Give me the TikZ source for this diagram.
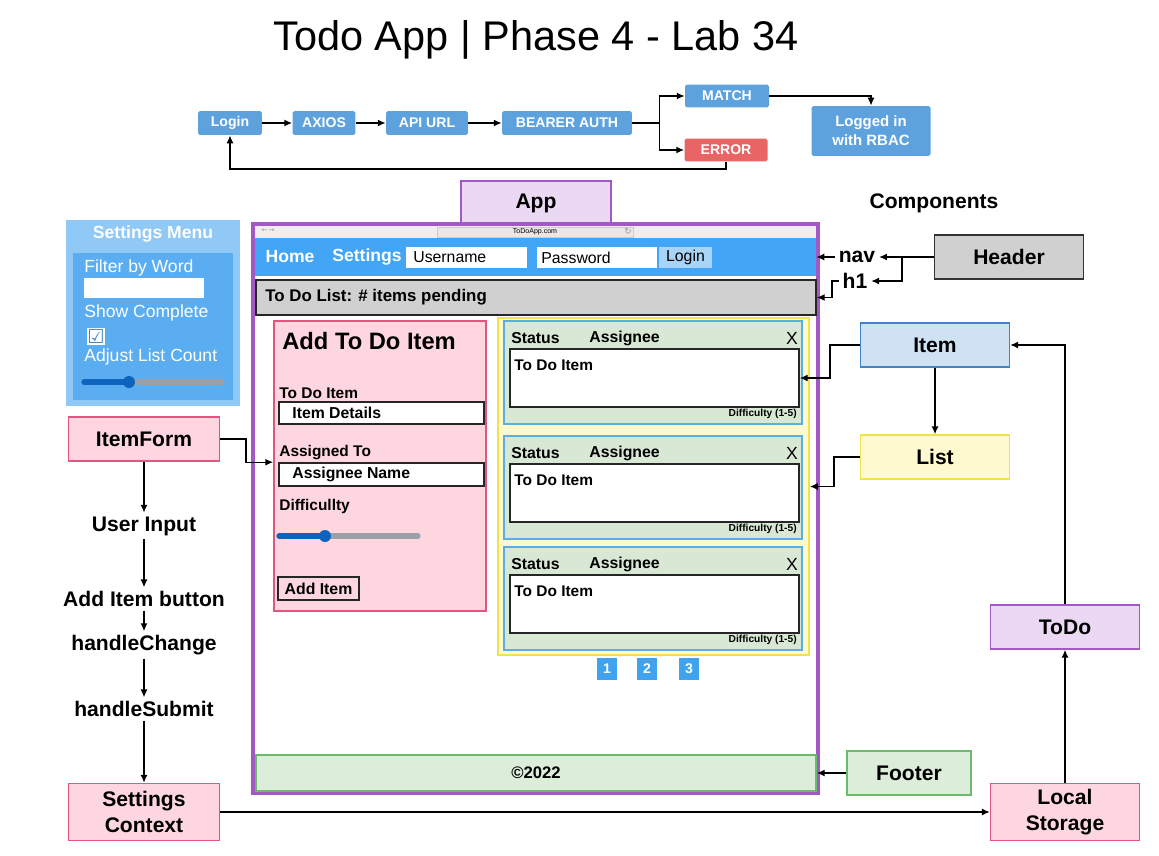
\documentclass[tikz,border=0pt]{standalone}
\usepackage{fontspec}
\setmainfont{Liberation Sans}
\newfontfamily\symfont{DejaVu Sans}
\usetikzlibrary{arrows.meta,fit,positioning}

\definecolor{flowblue}{HTML}{5DA2DC}
\definecolor{errred}{HTML}{E96565}
\definecolor{appfill}{HTML}{EBD9F3}
\definecolor{appline}{HTML}{A259C6}
\definecolor{navblue}{HTML}{42A5F5}
\definecolor{btnblue}{HTML}{A8D4F8}
\definecolor{hgray}{HTML}{D0D0D0}
\definecolor{formfill}{HTML}{FDD6DF}
\definecolor{formline}{HTML}{E2557D}
\definecolor{listfill}{HTML}{FEF9CF}
\definecolor{listline}{HTML}{F1E24A}
\definecolor{cardfill}{HTML}{D9E8D5}
\definecolor{cardline}{HTML}{5AAEE2}
\definecolor{footfill}{HTML}{DCEEDA}
\definecolor{footline}{HTML}{69BC69}
\definecolor{itemfill}{HTML}{CFE2F3}
\definecolor{itemline}{HTML}{3D85C6}
\definecolor{menuout}{HTML}{90C8F6}
\definecolor{menuin}{HTML}{5AADF0}
\definecolor{slideblue}{HTML}{0E63BC}
\definecolor{slidegray}{HTML}{9AA0A8}
\definecolor{pageblue}{HTML}{3FA3F0}
\definecolor{chrome}{HTML}{EEEEF0}

\tikzset{
  flowbox/.style={fill=flowblue, text=white, inner sep=0pt, rounded corners=1pt,
    minimum height=0.48cm, font=\bfseries\fontsize{8}{9}\selectfont},
  comp/.style={draw, line width=0.8pt, inner sep=0pt, minimum width=2.98cm,
    minimum height=0.88cm, align=center, font=\bfseries\fontsize{12}{14}\selectfont},
  flowtxt/.style={inner sep=2pt, font=\bfseries\fontsize{12}{14}\selectfont},
  link/.style={line width=0.8pt, -{Latex[length=4.5pt,width=4pt]}},
  area/.style={inner sep=0pt},
  wlab/.style={anchor=west, inner sep=0pt, font=\bfseries\fontsize{8.8}{10}\selectfont},
  plain/.style={anchor=west, inner sep=0pt, font=\fontsize{9}{10}\selectfont},
  navtxt/.style={inner sep=0pt, text=white, font=\bfseries\fontsize{10}{12}\selectfont},
  menutxt/.style={anchor=west, inner sep=0pt, text=white, font=\fontsize{10}{12}\selectfont},
  field/.style={area, fill=white, draw=black!85, line width=0.9pt},
}

\begin{document}
\begin{tikzpicture}[x=0.02cm,y=-0.02cm]
\useasboundingbox (0,0) rectangle (1159,855);

\node[font=\fontsize{23.6}{27}\selectfont] (title) at (536,40) {Todo App | Phase 4 - Lab 34};

% login flow
\node[flowbox, minimum width=1.28cm] (login) at (230,123) {Login};
\node[flowbox, minimum width=1.26cm] (axios) at (324,123) {AXIOS};
\node[flowbox, minimum width=1.64cm] (apiurl) at (427,123) {API URL};
\node[flowbox, minimum width=2.6cm] (bearer) at (567,123) {BEARER AUTH};
\node[flowbox, minimum width=1.68cm, minimum height=0.46cm] (match) at (727,96) {MATCH};
\node[flowbox, fill=errred, minimum width=1.66cm, minimum height=0.46cm] (error) at (726,150) {ERROR};
\node[flowbox, minimum width=2.38cm, minimum height=1cm, align=center,
  font=\bfseries\fontsize{8.5}{10.8}\selectfont] (rbac) at (871,131) {Logged in\\with RBAC};
\draw[link] (login) -- (axios);
\draw[link] (axios) -- (apiurl);
\draw[link] (apiurl) -- (bearer);
\draw[link] (bearer.east) -- ++(27,0) |- (match.west);
\draw[link] (bearer.east) -- ++(27,0) |- (error.west);
\draw[link] (match.east) -| (rbac.north);
\draw[link] (error.south) -- ++(0,7) -| (login.south);

\node[fill=appfill, draw=appline, line width=0.8pt, minimum width=3cm, minimum height=0.88cm,
  font=\bfseries\fontsize{12}{14}\selectfont] (app) at (536,203) {App};
\node[flowtxt] (complab) at (934,203) {Components};

% browser window
\node[fit={(253,224) (818,793)}, area, draw=appline, line width=2pt] (browser) {};
\fill[chrome] (255,226) rectangle (816,238);
\node[fit={(437,227) (633,237)}, area, fill=black!9, draw=black!20, line width=0.3pt] (url) {};
\node[font=\fontsize{4}{4}\selectfont] at (url) {ToDoApp.com};
\node[font=\symfont\fontsize{4}{4}\selectfont, text=black!40] at (268,231) {←\,→};
\node[font=\symfont\fontsize{5}{5}\selectfont, text=black!40] at (628,232) {↻};

\node[fit={(255,238) (816,276)}, area, fill=navblue] (navbar) {};
\node[navtxt] at (290,257) {Home};
\node[navtxt] at (367,257) {Settings};
\node[fit={(406,247) (527,268)}, area, fill=white] (user) {};
\node[plain] at (413,257.5) {Username};
\node[fit={(537,247) (657,268)}, area, fill=white] (pass) {};
\node[plain] at (541,257.5) {Password};
\node[fit={(659,247) (712,268)}, area, fill=btnblue] (loginbtn) {};
\node[font=\fontsize{9}{10}\selectfont] at (loginbtn) {Login};

\node[fit={(256,280) (816,315)}, area, fill=hgray, draw=black!85, line width=0.9pt] (hbar) {};
\node[wlab, font=\bfseries\fontsize{9.6}{11}\selectfont] at (265,297.5) {To Do List: \# items pending};

% add item form
\node[fit={(274,321) (486,611)}, area, fill=formfill, draw=formline, line width=0.9pt] (addform) {};
\node[wlab, font=\bfseries\fontsize{13.5}{15}\selectfont] at (282,341) {Add To Do Item};
\node[wlab] at (279,393) {To Do Item};
\node[fit={(279,402) (484,424)}, field] (itemfield) {};
\node[wlab, font=\bfseries\fontsize{9}{10}\selectfont] at (292,413) {Item Details};
\node[wlab] at (279,453) {Assigned To};
\node[fit={(279,463) (484,486)}, field] (assignfield) {};
\node[wlab, font=\bfseries\fontsize{9}{10}\selectfont] at (292,474.5) {Assignee Name};
\node[wlab] at (279,506) {Difficullty};
\draw[slidegray, line width=3pt, line cap=round] (325,536) -- (418,536);
\draw[slideblue, line width=3pt, line cap=round] (279,536) -- (325,536);
\fill[slideblue] (325,536) circle (6);
\node[fit={(278,577) (359,600)}, area, draw=black!85, line width=0.9pt] (addbtn) {};
\node[font=\bfseries\fontsize{9}{10}\selectfont] at (addbtn) {Add Item};

% list of items
\node[fit={(498,318) (809,655)}, area, fill=listfill, draw=listline, line width=1pt] (listbox) {};
\foreach \o/\n in {0/1,115/2,226/3}{
  \node[fit={(504,321+\o) (802,424+\o)}, area, fill=cardfill, draw=cardline, line width=0.9pt] (card\n) {};
  \node[wlab, font=\bfseries\fontsize{9}{10}\selectfont] at (511,338+\o) {Status};
  \node[wlab, font=\bfseries\fontsize{9}{10}\selectfont] at (589,338+\o) {Assignee};
  \node[font=\fontsize{10}{10}\selectfont, inner sep=0pt] at (792,338+\o) {X};
  \node[fit={(510,349+\o) (799,407+\o)}, field] (cardbody\n) {};
  \node[wlab] at (514,365+\o) {To Do Item};
  \node[anchor=east, inner sep=0pt, font=\bfseries\fontsize{5.8}{6}\selectfont] at (797,414+\o) {Difficulty (1-5)};
}
\foreach \xp/\num in {607/1,647/2,689/3}
  \node[fill=pageblue, text=white, minimum width=0.4cm, minimum height=0.44cm, inner sep=0pt,
    font=\bfseries\fontsize{8}{9}\selectfont] (page\num) at (\xp,669) {\num};

\node[fit={(256,755) (816,791)}, area, fill=footfill, draw=footline, line width=0.9pt] (footbar) {};
\node[font=\bfseries\fontsize{9.5}{11}\selectfont] at (footbar) {©2022};

% settings menu
\node[fit={(66,220) (240,406)}, area, fill=menuout] (menu) {};
\node[navtxt] at (153,234) {Settings Menu};
\fill[menuin] (73,253) rectangle (233,400);
\node[menutxt] at (84,268) {Filter by Word};
\fill[white] (84,278) rectangle (204,298);
\node[menutxt] at (84,313) {Show Complete};
\fill[white] (87,328) rectangle (105,345);
\node[font=\symfont\fontsize{11}{11}\selectfont, text=menuin!80!black, inner sep=0pt] at (96,336.5) {☑};
\node[menutxt] at (84,357) {Adjust List Count};
\draw[slidegray, line width=3pt, line cap=round] (129,382) -- (222,382);
\draw[slideblue, line width=3pt, line cap=round] (84,382) -- (129,382);
\fill[slideblue] (129,382) circle (6);

% item form flow
\node[comp, fill=formfill, draw=formline, minimum width=3.02cm] (itemform) at (144,439) {ItemForm};
\node[flowtxt] (input) at (144,526) {User Input};
\node[flowtxt] (addbutton) at (144,599) {Add Item button};
\node[flowtxt] (change) at (144,645) {handleChange};
\node[flowtxt] (submit) at (144,709) {handleSubmit};
\node[comp, fill=formfill, draw=formline, minimum width=3.02cm, minimum height=1.14cm,
  font=\bfseries\fontsize{12}{15}\selectfont] (ctx) at (144,812) {Settings\\Context};
\draw[link] (itemform) -- (input);
\draw[link] (input) -- (addbutton);
\draw[link] (addbutton) -- (change);
\draw[link] (change) -- (submit);
\draw[link] (submit) -- (ctx);
\draw[link] (itemform.east) -- ++(26,0) |- (addform.west |- assignfield.north);

% components
\node[comp, fill=hgray, draw=black!80] (header) at (1009,257) {Header};
\node[flowtxt] (navlab) at (857,257) {nav};
\node[flowtxt] (h1lab) at (855,281) {h1};
\draw[line width=0.8pt] (header.west) -- ++(-32,0) coordinate (hsplit);
\draw[link] (hsplit) -- (navlab.east);
\draw[link] (hsplit) |- (h1lab.east);
\draw[link] (navlab.west) -- (navbar.east);
\draw[link] (h1lab.west) -- ++(-7,0) |- (hbar.east);

\node[comp, fill=itemfill, draw=itemline] (item) at (935,345) {Item};
\node[comp, fill=listfill, draw=listline] (list) at (935,457) {List};
\node[comp, fill=appfill, draw=appline] (todo) at (1065,627) {ToDo};
\node[comp, fill=formfill, draw=formline, minimum height=1.14cm,
  font=\bfseries\fontsize{12}{15}\selectfont] (local) at (1065,812) {Local\\Storage};
\node[comp, fill=footfill, draw=footline, minimum width=2.48cm] (footer) at (909,773) {Footer};
\draw[link] (item.west) -- ++(-30,0) |- (cardbody1.east);
\draw[link] (item) -- (list);
\draw[link] (list.west) -- ++(-26,0) |- (listbox.east);
\draw[link] (todo.north) |- (item.east);
\draw[link] (local) -- (todo);
\draw[link] (ctx) -- (local);
\draw[link] (footer) -- (footbar.east);
\end{tikzpicture}
\end{document}
